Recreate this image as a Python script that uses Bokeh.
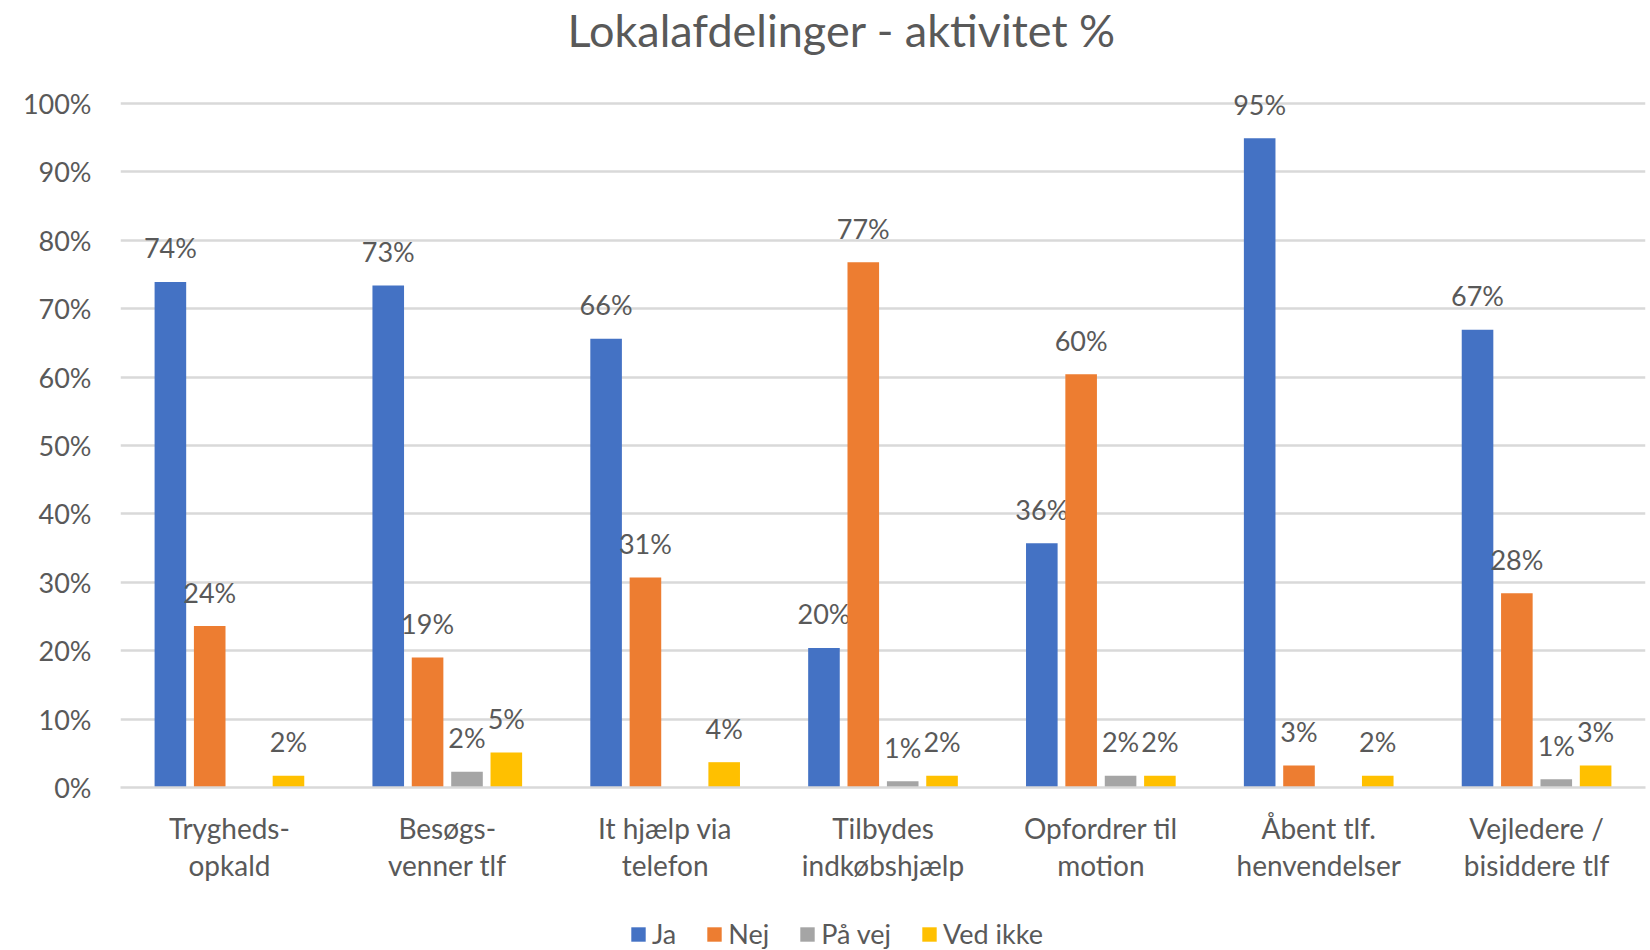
from bokeh.plotting import figure
from bokeh.layouts import column
from bokeh.models import (FactorRange, Range1d, ColumnDataSource, Legend, LegendItem,
                          FixedTicker, PrintfTickFormatter)
from bokeh.transform import dodge
from bokeh.embed import file_html
from bokeh.resources import INLINE
from bokeh.core.properties import value
import numpy as np

title_text = "Lokalafdelinger - aktivitet %"
categories = ["Trygheds-\nopkald", "Besøgs-\nvenner tlf", "It hjælp via\ntelefon",
              "Tilbydes\nindkøbshjælp", "Opfordrer til\nmotion", "Åbent tlf.\nhenvendelser",
              "Vejledere /\nbisiddere tlf"]
series_names = ["Ja", "Nej", "På vej", "Ved ikke"]
ja = [73.9, 73.4, 65.6, 20.4, 35.7, 94.9, 66.9]
nej = [23.6, 19.0, 30.7, 76.8, 60.4, 3.2, 28.4]
paa_vej = [None, 2.3, None, 0.9, 1.7, None, 1.2]
ved_ikke = [1.7, 5.1, 3.7, 1.7, 1.7, 1.7, 3.2]
y_ticks = [0, 10, 20, 30, 40, 50, 60, 70, 80, 90, 100]

series = [ja, nej, paa_vej, ved_ikke]
colors = ["#4472C4", "#ED7D31", "#A5A5A5", "#FFC000"]
offsets = [-0.271, -0.0905, 0.0905, 0.271]
bar_w = 0.145
FONT = "Lato"
TXT = "#595959"
GRID = "#D9D9D9"

MAIN_H = 890
LEG_H = 60
TOP = 55
BOTTOM = 787
PX_PER_PCT = 6.85

p = figure(x_range=FactorRange(*categories, range_padding=0),
           y_range=Range1d(0, (BOTTOM - TOP) / PX_PER_PCT),
           width=1650, height=MAIN_H, output_backend="svg", toolbar_location=None,
           min_border_left=120, min_border_right=5, min_border_top=TOP,
           min_border_bottom=MAIN_H - BOTTOM)

# legend-only strip below the chart
p2 = figure(width=1650, height=LEG_H, output_backend="svg", toolbar_location=None,
            x_range=Range1d(0, 1), y_range=Range1d(0, 1),
            x_axis_location=None, y_axis_location=None, min_border=0,
            min_border_left=0, min_border_right=0, min_border_top=0, min_border_bottom=0)
p2.outline_line_color = None
p2.xgrid.grid_line_color = None
p2.ygrid.grid_line_color = None

items = []
for name, vals, col, off in zip(series_names, series, colors, offsets):
    v = np.array([np.nan if x is None else x for x in vals], dtype=float)
    labels = ["" if np.isnan(x) else f"{int(round(x))}%" for x in v]
    src = ColumnDataSource(dict(cat=categories, val=v, lab=labels))
    p.vbar(x=dodge("cat", off, range=p.x_range), top="val", width=bar_w, source=src,
           fill_color=col, line_color=None)
    p.text(x=dodge("cat", off, range=p.x_range), y="val", text="lab", source=src,
           text_align="center", text_baseline="middle", y_offset=-34,
           text_font=value(FONT), text_font_size="27px", text_color=TXT)
    # zero-height swatch renderer, used only for the legend strip
    swatch = p2.vbar(x=[0.5], top=[0], bottom=[0], width=0, fill_color=col, line_color=None)
    items.append(LegendItem(label=name, renderers=[swatch]))

p.title.text = title_text
p.title.text_font = FONT
p.title.text_font_size = "45px"
p.title.text_font_style = "normal"
p.title.text_color = TXT
p.title.align = "left"
p.title.offset = 447
p.title.standoff = 0

p.ygrid.ticker = FixedTicker(ticks=y_ticks)
p.yaxis.ticker = FixedTicker(ticks=y_ticks)
p.yaxis.formatter = PrintfTickFormatter(format="%d%%")
p.ygrid.grid_line_color = GRID
p.ygrid.grid_line_width = 2.5
p.xgrid.grid_line_color = None
p.yaxis.axis_line_color = None
p.yaxis.major_tick_line_color = None
p.yaxis.minor_tick_line_color = None
p.yaxis.major_tick_out = 0
p.yaxis.major_tick_in = 0
p.yaxis.major_label_text_font = FONT
p.yaxis.major_label_text_font_size = "27px"
p.yaxis.major_label_text_color = TXT
p.yaxis.major_label_standoff = 29

p.xaxis.axis_line_color = GRID
p.xaxis.axis_line_width = 2.5
p.xaxis.major_tick_line_color = None
p.xaxis.minor_tick_line_color = None
p.xaxis.major_tick_out = 0
p.xaxis.major_tick_in = 0
p.xaxis.major_label_text_font = FONT
p.xaxis.major_label_text_font_size = "28px"
p.xaxis.major_label_text_line_height = 1.1
p.xaxis.major_label_text_color = TXT
p.xaxis.major_label_standoff = 23
p.outline_line_color = None

legend = Legend(items=items, orientation="horizontal", location=(509, 0),
                glyph_width=18, glyph_height=18, label_standoff=5, spacing=29,
                padding=0, margin=0, border_line_color=None, background_fill_alpha=0,
                label_text_font=FONT, label_text_font_size="27px", label_text_color=TXT)
p2.add_layout(legend, "center")

layout = column(p, p2, spacing=0)
open("out.html", "w").write(file_html(layout, INLINE))
